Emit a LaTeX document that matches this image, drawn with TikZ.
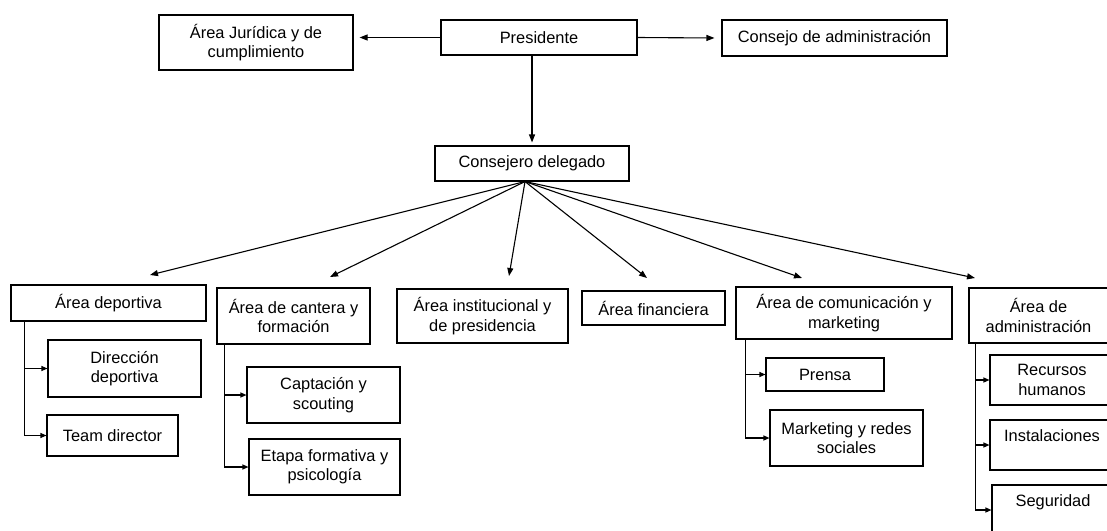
\documentclass[tikz,border=0pt]{standalone}
\usepackage{fontspec}
\setmainfont{Liberation Sans}
\usetikzlibrary{arrows.meta}

\begin{document}
\begin{tikzpicture}[x=1pt, y=-1pt, line width=1.1pt,
    font=\fontsize{16.4}{19.5}\selectfont,
    orgbox/.style 2 args={draw, align=center, inner sep=1pt, minimum width=#1, minimum height=#2},
    tip/.style={-{Triangle[length=8pt,width=6pt]}},
    subtip/.style={-{Triangle[length=6pt,width=5pt]}}]
    \useasboundingbox (0,0) rectangle (1107,530);
    \clip (0,0) rectangle (1107,530);

    % Top of the chart
    \node[orgbox={196}{35}] (pres) at (539,37.5) {Presidente};
    \node[orgbox={194}{55}] (jur) at (256,42.5) {Área Jurídica y de\\cumplimiento};
    \node[orgbox={225}{36}] (cadm) at (834.5,38) {Consejo de administración};
    \node[orgbox={194}{35}] (cdel) at (532,163.5) {Consejero delegado};

    \draw[tip] (pres.west) -- ([xshift=6]pres.west -| jur.east);
    \draw[tip] (pres.east) -- ([xshift=-7]cadm.west);
    \draw[tip] (cdel.north |- pres.south) -- ([yshift=3]cdel.north);

    % Areas
    \node[orgbox={195}{36}] (dep) at (108.5,303) {Área deportiva};
    \node[orgbox={153}{56}] (can) at (293.5,316) {Área de cantera y\\formación};
    \node[orgbox={171}{54}] (ins) at (482.5,316) {Área institucional y\\de presidencia};
    \node[orgbox={143}{34}] (fin) at (653.5,308) {Área financiera};
    \node[orgbox={216}{52}] (com) at (844,313) {Área de comunicación y\\marketing};
    \node[orgbox={139}{55}] (adm) at (1038.5,315.5) {Área de\\administración};

    % Arrows from Consejero delegado
    \coordinate (fan) at ([xshift=-7]cdel.south);
    \coordinate (dep-in) at (150,275);
    \coordinate (can-in) at (330,277);
    \coordinate (ins-in) at (509,276);
    \coordinate (fin-in) at (647,278);
    \coordinate (com-in) at (802,278);
    \coordinate (adm-in) at (975,278);
    \foreach \a in {dep,can,ins,fin,com,adm}
        \draw[tip] (fan) -- (\a-in);

    % Sub areas
    \node[orgbox={153}{57}] (ddep) at (124.5,368.5) {Dirección\\deportiva};
    \node[orgbox={131}{41}] (team) at (112.5,435.5) {Team director};
    \node[orgbox={153}{56}] (capt) at (323.5,395) {Captación y\\scouting};
    \node[orgbox={151}{56}] (etapa) at (324.5,467) {Etapa formativa y\\psicología};
    \node[orgbox={118}{33}] (prensa) at (825,374.5) {Prensa};
    \node[orgbox={153}{56}] (mkt) at (846.5,438) {Marketing y redes\\sociales};
    \node[orgbox={124}{50}] (rrhh) at (1052,380) {Recursos\\humanos};
    \node[orgbox={124}{50}] (inst) at (1052,445) {Instalaciones\\\mbox{}};
    \node[orgbox={122}{50}] (seg) at (1053,510) {Seguridad\\\mbox{}};

    \draw[subtip] ([xshift=14]dep.south west) |- (ddep.west);
    \draw[subtip] ([xshift=14]dep.south west) |- (team.west);
    \draw[subtip] ([xshift=8]can.south west) |- (capt.west);
    \draw[subtip] ([xshift=8]can.south west) |- (etapa.west);
    \draw[subtip] ([xshift=10]com.south west) |- (prensa.west);
    \draw[subtip] ([xshift=10]com.south west) |- (mkt.west);
    \draw[subtip] ([xshift=7]adm.south west) |- (rrhh.west);
    \draw[subtip] ([xshift=7]adm.south west) |- (inst.west);
    \draw[subtip] ([xshift=7]adm.south west) |- (seg.west);
\end{tikzpicture}
\end{document}
